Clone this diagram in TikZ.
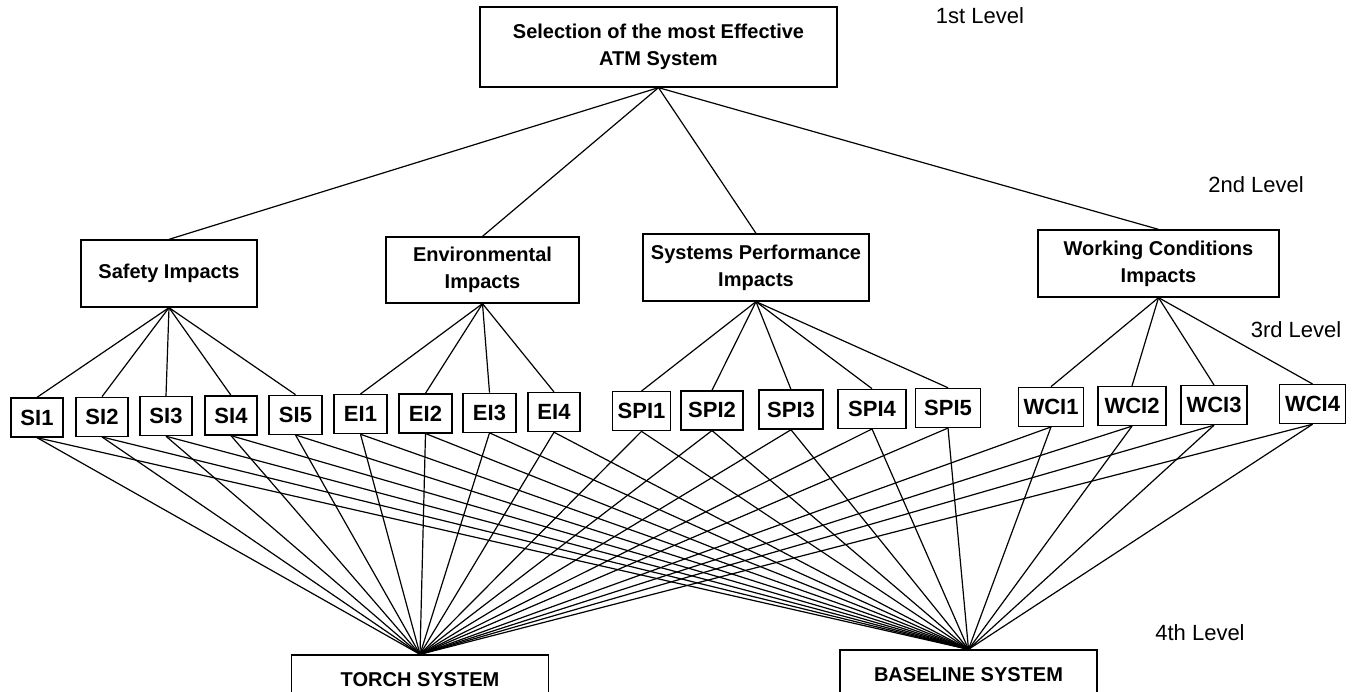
\documentclass[tikz,border=0pt]{standalone}
\usepackage{fontspec}
\setmainfont{Liberation Sans}
\begin{document}
\begin{tikzpicture}[x=1pt,y=-1pt,
  box/.style={draw, line width=1.3pt, inner sep=0pt, align=center,
    font=\bfseries\fontsize{20}{26.7}\selectfont},
  leaf/.style={box, minimum height=39pt, font=\bfseries\fontsize{22}{26}\selectfont},
  levellabel/.style={font=\fontsize{22}{26}\selectfont, inner sep=0pt},
  link/.style={line width=1.2pt}]
\useasboundingbox (0,0) rectangle (1356,692);

% root of the hierarchy
\node[box, minimum width=357pt, minimum height=80pt] (goal) at (658.5,47)
  {Selection of the most Effective\\ATM System};

% criteria
\node[box, minimum width=176pt, minimum height=67pt] (safety) at (169,273.5) {Safety Impacts};
\node[box, minimum width=193pt, minimum height=66pt] (env) at (482.5,270) {Environmental\\Impacts};
\node[box, minimum width=226pt, minimum height=67pt] (perf) at (756,267.5) {Systems Performance\\Impacts};
\node[box, minimum width=241pt, minimum height=67pt] (work) at (1158.5,263.5) {Working Conditions\\Impacts};

% alternatives (their lower edges run off the bottom of the page)
\node[box, minimum width=257pt, minimum height=50pt] (torch) at (420,680) {TORCH SYSTEM};
\node[box, minimum width=257pt, minimum height=50pt] (base) at (968.5,675) {BASELINE SYSTEM};

% level labels
\node[levellabel] (l1) at (980,16) {1st Level};
\node[levellabel] (l2) at (1256,185) {2nd Level};
\node[levellabel] (l3) at (1296,330) {3rd Level};
\node[levellabel] (l4) at (1200,633) {4th Level};

% goal to criteria
\foreach \c in {safety,env,perf,work}
  \draw[link] (goal.south) -- (\c.north);

% sub-criteria, each linked to its criterion and to both alternatives
\foreach \n/\x/\y/\w/\t/\p in {
  si1/37/417.5/52/SI1/safety, si2/102/416.8/52/SI2/safety,
  si3/166/416.1/52/SI3/safety, si4/231/415.5/52/SI4/safety,
  si5/295.5/414.8/53/SI5/safety,
  ei1/360.5/414.1/53/EI1/env, ei2/425.5/413.4/53/EI2/env,
  ei3/489.5/412.7/53/EI3/env, ei4/554/412.1/52/EI4/env,
  spi1/641.5/411.2/58/SPI1/perf, spi2/712/410.4/62/SPI2/perf,
  spi3/791/409.6/64/SPI3/perf, spi4/872/408.8/68/SPI4/perf,
  spi5/948/407.9/65/SPI5/perf,
  wci1/1051/406.8/65/WCI1/work, wci2/1132/406.0/68/WCI2/work,
  wci3/1214/405.1/66/WCI3/work, wci4/1312.5/404.1/66/WCI4/work}
{
  \node[leaf, minimum width=\w pt] (\n) at (\x,\y) {\t};
  \draw[link] (\p.south) -- (\n.north);
  \draw[link] (\n.south) -- (torch.north);
  \draw[link] (\n.south) -- (base.north);
}
\end{tikzpicture}
\end{document}
